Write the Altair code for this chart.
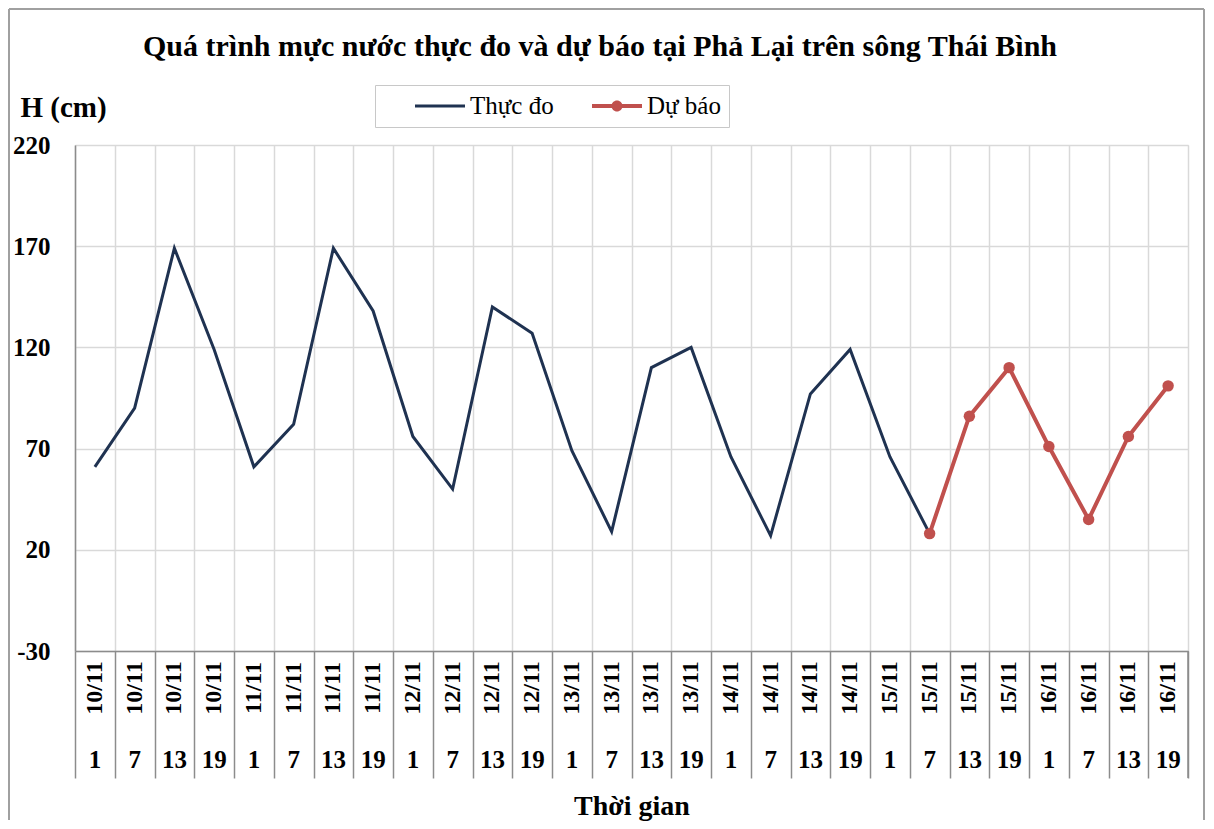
import altair as alt
import pandas as pd

# ---------------- data ----------------
dates = (["10/11"] * 4 + ["11/11"] * 4 + ["12/11"] * 4 + ["13/11"] * 4 +
         ["14/11"] * 4 + ["15/11"] * 4 + ["16/11"] * 4)
hours = ["1", "7", "13", "19"] * 7
observed = [61, 90, 169, 119, 61, 82, 169, 138, 76, 50, 140, 127, 69, 29,
            110, 120, 66, 27, 97, 119, 66, 28]
forecast = [28, 86, 110, 71, 35, 76, 101]
series_names = ["Thực đo", "Dự báo"]
series_colors = ["#1f3251", "#c0504d"]
y_ticks = [-30, 20, 70, 120, 170, 220]
title_text = "Quá trình mực nước thực đo và dự báo tại Phả Lại trên sông Thái Bình"

keys = [f"{d}|{h}" for d, h in zip(dates, hours)]
fc_start = len(observed) - 1

obs_df = pd.DataFrame({"key": keys[:len(observed)], "value": observed})
fc_df = pd.DataFrame({"key": keys[fc_start:fc_start + len(forecast)], "value": forecast})
lab_df = pd.DataFrame({"key": keys, "date": dates, "hour": hours})
leg_df = pd.DataFrame({"series": series_names})

# ---------------- style ----------------
W, H = 1113, 506
FONT = "Liberation Serif"
GRID = "#d9d9d9"
AXIS = "#8c8c8c"
SEP = 127

xscale = alt.Scale(domain=keys, paddingInner=0, paddingOuter=0)
x_axis = alt.Axis(
    title="Thời gian", labels=False, grid=True, tickBand="extent",
    gridColor=GRID, gridWidth=1.5, ticks=True, tickSize=SEP, tickColor=AXIS,
    tickWidth=1.5, domainColor=AXIS, domainWidth=1.5,
    titleFont=FONT, titleFontSize=28, titleFontWeight="bold",
    titleColor="black", titlePadding=14,
)
x_enc = alt.X("key:N", scale=xscale, axis=x_axis, sort=keys)

y_enc = alt.Y(
    "value:Q",
    scale=alt.Scale(domain=[-30, 220], nice=False, zero=False),
    axis=alt.Axis(
        values=y_ticks, labelExpr="'' + datum.value",
        title="H (cm)", titleAngle=0, titleX=-55, titleY=-38,
        titleAlign="left", titleBaseline="middle", titleFont=FONT,
        titleFontSize=29, titleFontWeight="bold", titleColor="black",
        labelFont=FONT, labelFontSize=25, labelFontWeight="bold",
        labelColor="black", labelPadding=25, ticks=False,
        gridColor=GRID, gridWidth=1.5, domainColor=AXIS, domainWidth=1.5,
    ),
)

obs_line = alt.Chart(obs_df).mark_line(color=series_colors[0], strokeWidth=3).encode(
    x=x_enc, y=y_enc)
fc_line = alt.Chart(fc_df).mark_line(color=series_colors[1], strokeWidth=4).encode(
    x=x_enc, y=y_enc)
fc_pts = alt.Chart(fc_df).mark_point(
    filled=True, color=series_colors[1], size=130, opacity=1).encode(x=x_enc, y=y_enc)

date_txt = alt.Chart(lab_df).mark_text(
    angle=270, font=FONT, fontSize=24, fontWeight="bold", color="black",
    align="center", baseline="middle").encode(
    x=x_enc, y=alt.value(H + 37), text="date:N")
hour_txt = alt.Chart(lab_df).mark_text(
    font=FONT, fontSize=25, fontWeight="bold", color="black",
    align="center", baseline="middle").encode(
    x=x_enc, y=alt.value(H + 109), text="hour:N")

one = pd.DataFrame({"a": [0]})
right_sep = alt.Chart(one).mark_rule(color=AXIS, strokeWidth=1.5).encode(
    x=alt.value(W), y=alt.value(H), y2=alt.value(H + SEP))

# outer chart frame (left, top, right sides)
FR = "#a0a0a0"
frame_l = alt.Chart(one).mark_rule(color=FR, strokeWidth=2).encode(
    x=alt.value(-66), y=alt.value(-136), y2=alt.value(675))
frame_r = alt.Chart(one).mark_rule(color=FR, strokeWidth=2).encode(
    x=alt.value(1129), y=alt.value(-136), y2=alt.value(675))
frame_t = alt.Chart(one).mark_rule(color=FR, strokeWidth=2).encode(
    x=alt.value(-66), x2=alt.value(1129), y=alt.value(-136))

title_mark = alt.Chart(one).mark_text(
    font=FONT, fontSize=30, fontWeight="bold", color="black",
    align="center", baseline="middle").encode(
    x=alt.value(525), y=alt.value(-98), text=alt.value(title_text))

# legend symbols: line, and line with a dot (unit = 13 px, drawn right of centre)
path_obs = "M1.4615,-0.115H5.3077V0.115H1.4615Z"
path_fc = ("M1.4615,-0.154H5.3077V0.154H1.4615Z "
           "M2.9615,0A0.423,0.423 0 1,1 3.8077,0A0.423,0.423 0 1,1 2.9615,0Z")
legend = alt.Legend(
    title=None, orient="none", legendX=300, legendY=-60, direction="horizontal",
    symbolSize=676, symbolStrokeWidth=0, symbolOpacity=1,
    labelFont=FONT, labelFontSize=25, labelColor="black", labelOffset=61,
    columnPadding=6, padding=8, strokeColor="#c8c8c8", fillColor="white",
)
leg_layer = alt.Chart(leg_df).mark_point(filled=True, opacity=0).encode(
    shape=alt.Shape("series:N", scale=alt.Scale(domain=series_names,
                                                range=[path_obs, path_fc]), legend=legend),
    fill=alt.Fill("series:N", scale=alt.Scale(domain=series_names,
                                              range=series_colors), legend=legend),
)

chart = alt.layer(
    frame_l, frame_r, frame_t, title_mark,
    obs_line, fc_line, fc_pts, date_txt, hour_txt, right_sep, leg_layer
).properties(
    width=W, height=H,
    padding=0,
).configure_view(stroke="#b0b0b0", strokeWidth=1.5).configure(background="white")

chart.save("out.html", embed_options={"renderer": "svg", "actions": False})
